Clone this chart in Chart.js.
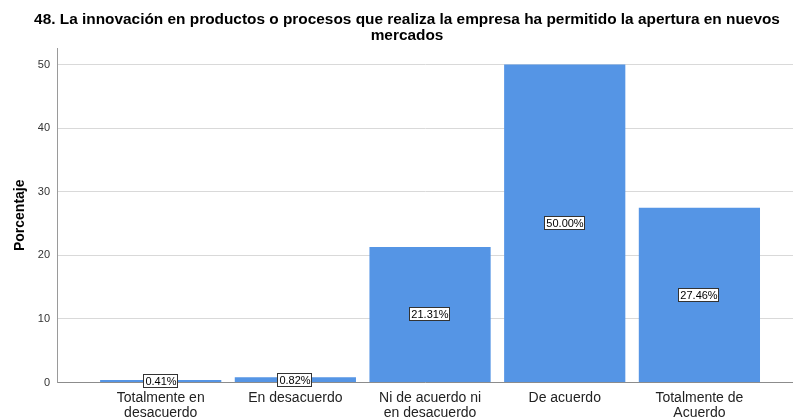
<!DOCTYPE html>
<html>
<head>
<meta charset="utf-8">
<script src="https://cdn.jsdelivr.net/npm/chart.js@4/dist/chart.umd.min.js"></script>
<style>
  html, body { margin: 0; padding: 0; background: #fff; }
  #wrap { width: 793px; height: 417px; position: relative; }
</style>
</head>
<body>
<div id="wrap"><canvas id="c"></canvas></div>
<script>
// Survey question 48: share of respondents per answer
const titleLines = [
  '48. La innovación en productos o procesos que realiza la empresa ha permitido la apertura en nuevos',
  'mercados'
];
const categories = [
  ['Totalmente en', 'desacuerdo'],
  ['En desacuerdo'],
  ['Ni de acuerdo ni', 'en desacuerdo'],
  ['De acuerdo'],
  ['Totalmente de', 'Acuerdo']
];
const percentages = [0.41, 0.82, 21.31, 50.00, 27.46];
const yTicks = [0, 10, 20, 30, 40, 50];
const yAxisTitle = 'Porcentaje';

const FONT = '"Liberation Sans", Arial, sans-serif';
const BAR = '#5595e5';

// Two-line bold heading drawn over the plot
const titlePlugin = {
  id: 'heading',
  afterDraw(chart) {
    const ctx = chart.ctx;
    ctx.save();
    ctx.fillStyle = '#000';
    ctx.font = 'bold 15.4px ' + FONT;
    ctx.textAlign = 'center';
    ctx.textBaseline = 'alphabetic';
    titleLines.forEach((t, i) => ctx.fillText(t, 407, 24 + i * 16));
    ctx.restore();
  }
};

// Boxed percentage label at the middle of each bar
const boxLabels = {
  id: 'boxLabels',
  afterDatasetsDraw(chart) {
    const ctx = chart.ctx;
    const meta = chart.getDatasetMeta(0);
    ctx.save();
    ctx.font = '11px ' + FONT;
    ctx.textAlign = 'center';
    ctx.textBaseline = 'middle';
    meta.data.forEach((bar, i) => {
      const txt = percentages[i].toFixed(2) + '%';
      const w = Math.round(ctx.measureText(txt).width) + 4;
      const h = 14;
      const cx = Math.round(bar.x);
      const cy = Math.round((bar.y + bar.base) / 2);
      const x0 = cx - Math.round(w / 2);
      const y0 = cy - Math.round(h / 2);
      ctx.fillStyle = '#fff';
      ctx.fillRect(x0, y0, w, h);
      ctx.strokeStyle = '#333';
      ctx.lineWidth = 1;
      ctx.strokeRect(x0 + 0.5, y0 + 0.5, w - 1, h - 1);
      ctx.fillStyle = '#000';
      ctx.fillText(txt, cx, cy + 1);
    });
    ctx.restore();
  }
};

new Chart(document.getElementById('c'), {
  type: 'bar',
  data: {
    datasets: [{
      data: percentages.map((v, i) => ({ x: i, y: v })),
      backgroundColor: BAR,
      borderWidth: 0,
      categoryPercentage: 1,
      barPercentage: 0.9
    }]
  },
  options: {
    responsive: true,
    maintainAspectRatio: false,
    animation: false,
    events: [],
    layout: { padding: { top: 48, left: 0, right: 0, bottom: 0 } },
    plugins: {
      legend: { display: false },
      title: { display: false },
      tooltip: { enabled: false }
    },
    scales: {
      x: {
        type: 'linear',
        offset: false,
        min: -0.77,
        max: 4.695,
        grid: { display: true, offset: false, drawOnChartArea: false, drawTicks: false },
        border: { display: true, color: '#8c8c8c', width: 1 },
        ticks: {
          stepSize: 1,
          includeBounds: false,
          autoSkip: false,
          maxRotation: 0,
          minRotation: 0,
          padding: 8,
          color: '#222',
          font: { family: FONT, size: 14, lineHeight: 1.1 },
          callback: (v) => (Number.isInteger(v) && categories[v]) ? categories[v] : ''
        },
        afterFit(scale) { scale.height = 34.5; }
      },
      y: {
        min: 0,
        max: 52.6,
        grid: { color: '#d9d9d9', drawTicks: false },
        border: { display: true, color: '#9a9a9a', width: 1 },
        afterBuildTicks(scale) { scale.ticks = yTicks.map(v => ({ value: v })); },
        ticks: {
          padding: 7,
          color: '#333',
          font: { family: FONT, size: 11 }
        },
        title: {
          display: true,
          text: yAxisTitle,
          color: '#000',
          font: { family: FONT, size: 14, weight: 'bold' },
          padding: { top: 12, bottom: 0 }
        },
        afterFit(scale) { scale.width = 57; }
      }
    }
  },
  plugins: [titlePlugin, boxLabels]
});
</script>
</body>
</html>
